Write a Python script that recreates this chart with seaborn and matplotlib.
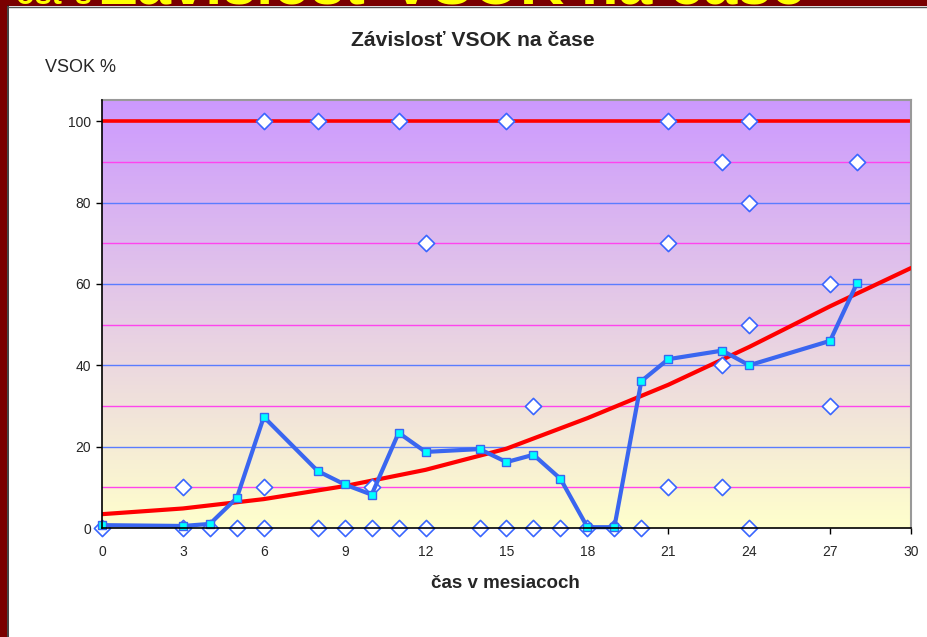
import numpy as np
import pandas as pd
import matplotlib
matplotlib.use("Agg")
import matplotlib.pyplot as plt
import seaborn as sns
from matplotlib.patches import Rectangle
from matplotlib.lines import Line2D

sns.set_style("white")
plt.rcParams['font.family'] = ['Liberation Sans', 'DejaVu Sans']

# ---- data ----
avg_months = [0, 3, 4, 5, 6, 8, 9, 10, 11, 12, 14, 15, 16, 17, 18, 19, 20, 21, 23, 24, 27, 28]
avg_vsok = [0.7, 0.5, 1.0, 7.4, 27.3, 14.0, 10.7, 8.2, 23.4, 18.7, 19.4, 16.2, 18.0, 12.1,
            0.2, 0.2, 36.1, 41.5, 43.6, 40.0, 46.0, 60.2]

pt_months = [0, 3, 4, 5, 6, 8, 9, 10, 11, 12, 14, 15, 16, 17, 18, 19, 20, 24,
             3, 6, 10, 21, 23,
             6, 8, 11, 15, 21, 24,
             23, 28, 24, 12, 21, 27, 24, 23, 16, 27]
pt_vsok = [0, 0, 0, 0, 0, 0, 0, 0, 0, 0, 0, 0, 0, 0, 0, 0, 0, 0,
           10, 10, 10, 10, 10,
           100, 100, 100, 100, 100, 100,
           90, 90, 80, 70, 70, 60, 50, 40, 30, 30]

trend_months = [0, 3, 6, 9, 12, 15, 18, 21, 24, 27, 30]
trend_vsok = [3.4, 4.8, 7.1, 10.3, 14.3, 19.5, 27.0, 35.2, 44.5, 54.5, 63.9]

ref_level = 100
x_ticks = [0, 3, 6, 9, 12, 15, 18, 21, 24, 27, 30]
y_ticks = [0, 20, 40, 60, 80, 100]
blue_grid = [20, 40, 60, 80]
pink_grid = [10, 30, 50, 70, 90]

title = "Závislosť VSOK na čase"
ylabel = "VSOK %"
xlabel = "čas v mesiacoch"

W, H = 928, 637
fig = plt.figure(figsize=(W / 100, H / 100), dpi=100)
fig.patch.set_facecolor("white")

def fx(px):
    return px / W

def fy(py):
    return 1 - py / H

# slide decoration: dark red frame + cut-off yellow heading
fig.patches.append(Rectangle((0, fy(6)), 1, 6 / H, transform=fig.transFigure,
                             facecolor="#7a0000", edgecolor="none", zorder=0))
fig.patches.append(Rectangle((0, 0), 7 / W, 1, transform=fig.transFigure,
                             facecolor="#7a0000", edgecolor="none", zorder=0))
fig.lines.append(Line2D([fx(7.5), fx(7.5)], [0, fy(6)], transform=fig.transFigure,
                        color="#222222", lw=1.2))
fig.lines.append(Line2D([fx(7.5), 1], [fy(6.5), fy(6.5)], transform=fig.transFigure,
                        color="#555555", lw=1.0))
fig.text(fx(16), fy(4), "osť s", color="#ffff00", fontsize=22, fontweight="bold",
         ha="left", va="baseline", zorder=1)
fig.text(fx(100), fy(4), "Závislosť VSOK na čase", color="#ffff00", fontsize=44,
         fontweight="bold", ha="left", va="baseline", zorder=1)

# axes
x0, x1 = 102, 911
y0, y1 = 528, 100
ymax = 105.2
ax = fig.add_axes([fx(x0), fy(y0), (x1 - x0) / W, (y0 - y1) / H])
ax.set_xlim(0, 30)
ax.set_ylim(0, ymax)

# gradient background
top = np.array([204, 153, 255]) / 255
bot = np.array([255, 255, 204]) / 255
t = np.linspace(0, 1, 256)[:, None]
grad = (top[None, :] * (1 - t) + bot[None, :] * t)[:, None, :]
ax.imshow(grad, extent=[0, 30, 0, ymax], aspect="auto", origin="upper", zorder=0)

for g in blue_grid:
    ax.axhline(g, color="#5a7cff", lw=1.0, zorder=1)
for g in pink_grid:
    ax.axhline(g, color="#ff44ee", lw=1.0, zorder=1)
ax.axhline(ref_level, color="#ff0000", lw=2.6, zorder=2)

df_trend = pd.DataFrame({"m": trend_months, "v": trend_vsok})
sns.lineplot(data=df_trend, x="m", y="v", ax=ax, color="#ff0000", lw=3.0, zorder=3)

df_pts = pd.DataFrame({"m": pt_months, "v": pt_vsok})
sns.scatterplot(data=df_pts, x="m", y="v", ax=ax, marker="D", s=68, color="white",
                edgecolor="#3a66ff", linewidth=1.2, zorder=4, clip_on=False)

df_avg = pd.DataFrame({"m": avg_months, "v": avg_vsok})
sns.lineplot(data=df_avg, x="m", y="v", ax=ax, color="#3a66f0", lw=3.0, marker="s",
             markersize=5.5, markerfacecolor="#00ffff", markeredgecolor="#3a66f0",
             markeredgewidth=1.0, zorder=5)
for l in ax.lines[-1:]:
    l.set_clip_on(False)

ax.set_xticks(x_ticks)
ax.set_yticks(y_ticks)
ax.set_xticklabels([str(v) for v in x_ticks], fontsize=10)
ax.set_yticklabels([str(v) for v in y_ticks], fontsize=10)
ax.tick_params(axis="both", direction="out", length=4, width=1, color="black",
               bottom=True, left=True)
ax.tick_params(axis="x", pad=8)
ax.tick_params(axis="y", pad=4)
ax.set_xlabel("")
ax.set_ylabel("")
for s in ["left", "bottom"]:
    ax.spines[s].set_color("black")
    ax.spines[s].set_linewidth(1.2)
    ax.spines[s].set_zorder(6)
for s in ["top", "right"]:
    ax.spines[s].set_color("#999999")
    ax.spines[s].set_linewidth(1.5)
legend = ax.get_legend()
if legend:
    legend.remove()

fig.text(fx(473), fy(41), title, fontsize=15.2, fontweight="bold", ha="center", va="center")
fig.text(fx(45), fy(67), ylabel, fontsize=13, ha="left", va="center")
fig.text(fx(505), fy(583), xlabel, fontsize=13.5, fontweight="bold", ha="center", va="center")

fig.savefig("out.png", dpi=100)
